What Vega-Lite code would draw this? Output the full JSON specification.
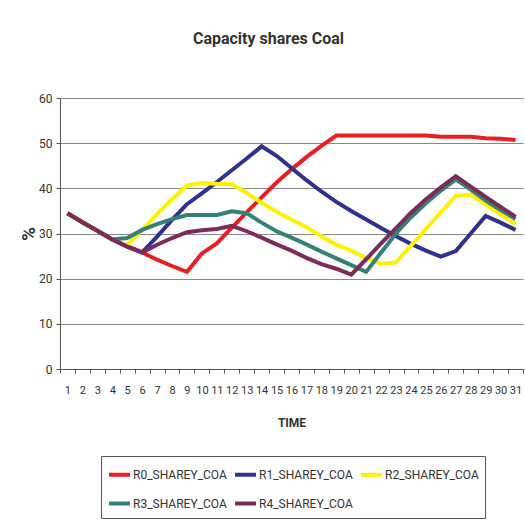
{
  "$schema": "https://vega.github.io/schema/vega-lite/v6.json",
  "width": 463,
  "height": 271,
  "autosize": {"type": "none"},
  "padding": {"left": 60, "top": 98, "right": 2, "bottom": 151},
  "background": "white",
  "title": {
    "text": "Capacity shares Coal",
    "anchor": "middle",
    "dx": -23,
    "offset": 45,
    "font": "Roboto",
    "fontSize": 16,
    "fontWeight": "bold",
    "color": "#333333"
  },
  "config": {
    "view": {"stroke": null},
    "font": "Roboto"
  },
  "data": {
    "values": [
      {"t": 1, "s": "R0_SHAREY_COA", "v": 34.5}, {"t": 2, "s": "R0_SHAREY_COA", "v": 32.5}, {"t": 3, "s": "R0_SHAREY_COA", "v": 30.6}, {"t": 4, "s": "R0_SHAREY_COA", "v": 28.7}, {"t": 5, "s": "R0_SHAREY_COA", "v": 27.2}, {"t": 6, "s": "R0_SHAREY_COA", "v": 25.8}, {"t": 7, "s": "R0_SHAREY_COA", "v": 24.2}, {"t": 8, "s": "R0_SHAREY_COA", "v": 22.8}, {"t": 9, "s": "R0_SHAREY_COA", "v": 21.5}, {"t": 10, "s": "R0_SHAREY_COA", "v": 25.6}, {"t": 11, "s": "R0_SHAREY_COA", "v": 27.8}, {"t": 12, "s": "R0_SHAREY_COA", "v": 31.3}, {"t": 13, "s": "R0_SHAREY_COA", "v": 34.7}, {"t": 14, "s": "R0_SHAREY_COA", "v": 38.0}, {"t": 15, "s": "R0_SHAREY_COA", "v": 41.3}, {"t": 16, "s": "R0_SHAREY_COA", "v": 44.2}, {"t": 17, "s": "R0_SHAREY_COA", "v": 46.9}, {"t": 18, "s": "R0_SHAREY_COA", "v": 49.4}, {"t": 19, "s": "R0_SHAREY_COA", "v": 51.7}, {"t": 20, "s": "R0_SHAREY_COA", "v": 51.7}, {"t": 21, "s": "R0_SHAREY_COA", "v": 51.7}, {"t": 22, "s": "R0_SHAREY_COA", "v": 51.7}, {"t": 23, "s": "R0_SHAREY_COA", "v": 51.7}, {"t": 24, "s": "R0_SHAREY_COA", "v": 51.7}, {"t": 25, "s": "R0_SHAREY_COA", "v": 51.7}, {"t": 26, "s": "R0_SHAREY_COA", "v": 51.4}, {"t": 27, "s": "R0_SHAREY_COA", "v": 51.4}, {"t": 28, "s": "R0_SHAREY_COA", "v": 51.4}, {"t": 29, "s": "R0_SHAREY_COA", "v": 51.1}, {"t": 30, "s": "R0_SHAREY_COA", "v": 51.0}, {"t": 31, "s": "R0_SHAREY_COA", "v": 50.7},
      {"t": 1, "s": "R1_SHAREY_COA", "v": 34.5}, {"t": 2, "s": "R1_SHAREY_COA", "v": 32.5}, {"t": 3, "s": "R1_SHAREY_COA", "v": 30.6}, {"t": 4, "s": "R1_SHAREY_COA", "v": 28.7}, {"t": 5, "s": "R1_SHAREY_COA", "v": 27.1}, {"t": 6, "s": "R1_SHAREY_COA", "v": 25.8}, {"t": 7, "s": "R1_SHAREY_COA", "v": 29.3}, {"t": 8, "s": "R1_SHAREY_COA", "v": 33.0}, {"t": 9, "s": "R1_SHAREY_COA", "v": 36.5}, {"t": 10, "s": "R1_SHAREY_COA", "v": 38.9}, {"t": 11, "s": "R1_SHAREY_COA", "v": 41.4}, {"t": 12, "s": "R1_SHAREY_COA", "v": 44.0}, {"t": 13, "s": "R1_SHAREY_COA", "v": 46.6}, {"t": 14, "s": "R1_SHAREY_COA", "v": 49.3}, {"t": 15, "s": "R1_SHAREY_COA", "v": 47.2}, {"t": 16, "s": "R1_SHAREY_COA", "v": 44.5}, {"t": 17, "s": "R1_SHAREY_COA", "v": 41.8}, {"t": 18, "s": "R1_SHAREY_COA", "v": 39.3}, {"t": 19, "s": "R1_SHAREY_COA", "v": 37.0}, {"t": 20, "s": "R1_SHAREY_COA", "v": 35.0}, {"t": 21, "s": "R1_SHAREY_COA", "v": 33.1}, {"t": 22, "s": "R1_SHAREY_COA", "v": 31.2}, {"t": 23, "s": "R1_SHAREY_COA", "v": 29.4}, {"t": 24, "s": "R1_SHAREY_COA", "v": 27.7}, {"t": 25, "s": "R1_SHAREY_COA", "v": 26.2}, {"t": 26, "s": "R1_SHAREY_COA", "v": 24.9}, {"t": 27, "s": "R1_SHAREY_COA", "v": 26.1}, {"t": 28, "s": "R1_SHAREY_COA", "v": 30.0}, {"t": 29, "s": "R1_SHAREY_COA", "v": 33.9}, {"t": 30, "s": "R1_SHAREY_COA", "v": 32.4}, {"t": 31, "s": "R1_SHAREY_COA", "v": 30.8},
      {"t": 1, "s": "R2_SHAREY_COA", "v": 34.5}, {"t": 2, "s": "R2_SHAREY_COA", "v": 32.5}, {"t": 3, "s": "R2_SHAREY_COA", "v": 30.6}, {"t": 4, "s": "R2_SHAREY_COA", "v": 28.7}, {"t": 5, "s": "R2_SHAREY_COA", "v": 27.4}, {"t": 6, "s": "R2_SHAREY_COA", "v": 30.8}, {"t": 7, "s": "R2_SHAREY_COA", "v": 34.3}, {"t": 8, "s": "R2_SHAREY_COA", "v": 37.6}, {"t": 9, "s": "R2_SHAREY_COA", "v": 40.6}, {"t": 10, "s": "R2_SHAREY_COA", "v": 41.2}, {"t": 11, "s": "R2_SHAREY_COA", "v": 41.0}, {"t": 12, "s": "R2_SHAREY_COA", "v": 40.9}, {"t": 13, "s": "R2_SHAREY_COA", "v": 39.0}, {"t": 14, "s": "R2_SHAREY_COA", "v": 36.8}, {"t": 15, "s": "R2_SHAREY_COA", "v": 34.8}, {"t": 16, "s": "R2_SHAREY_COA", "v": 33.1}, {"t": 17, "s": "R2_SHAREY_COA", "v": 31.4}, {"t": 18, "s": "R2_SHAREY_COA", "v": 29.4}, {"t": 19, "s": "R2_SHAREY_COA", "v": 27.5}, {"t": 20, "s": "R2_SHAREY_COA", "v": 26.2}, {"t": 21, "s": "R2_SHAREY_COA", "v": 24.6}, {"t": 22, "s": "R2_SHAREY_COA", "v": 23.3}, {"t": 23, "s": "R2_SHAREY_COA", "v": 23.6}, {"t": 24, "s": "R2_SHAREY_COA", "v": 27.3}, {"t": 25, "s": "R2_SHAREY_COA", "v": 31.0}, {"t": 26, "s": "R2_SHAREY_COA", "v": 34.7}, {"t": 27, "s": "R2_SHAREY_COA", "v": 38.3}, {"t": 28, "s": "R2_SHAREY_COA", "v": 38.6}, {"t": 29, "s": "R2_SHAREY_COA", "v": 36.4}, {"t": 30, "s": "R2_SHAREY_COA", "v": 34.2}, {"t": 31, "s": "R2_SHAREY_COA", "v": 32.1},
      {"t": 1, "s": "R3_SHAREY_COA", "v": 34.5}, {"t": 2, "s": "R3_SHAREY_COA", "v": 32.5}, {"t": 3, "s": "R3_SHAREY_COA", "v": 30.6}, {"t": 4, "s": "R3_SHAREY_COA", "v": 28.7}, {"t": 5, "s": "R3_SHAREY_COA", "v": 29.0}, {"t": 6, "s": "R3_SHAREY_COA", "v": 30.8}, {"t": 7, "s": "R3_SHAREY_COA", "v": 32.1}, {"t": 8, "s": "R3_SHAREY_COA", "v": 33.2}, {"t": 9, "s": "R3_SHAREY_COA", "v": 34.1}, {"t": 10, "s": "R3_SHAREY_COA", "v": 34.1}, {"t": 11, "s": "R3_SHAREY_COA", "v": 34.1}, {"t": 12, "s": "R3_SHAREY_COA", "v": 34.9}, {"t": 13, "s": "R3_SHAREY_COA", "v": 34.5}, {"t": 14, "s": "R3_SHAREY_COA", "v": 32.4}, {"t": 15, "s": "R3_SHAREY_COA", "v": 30.5}, {"t": 16, "s": "R3_SHAREY_COA", "v": 29.1}, {"t": 17, "s": "R3_SHAREY_COA", "v": 27.6}, {"t": 18, "s": "R3_SHAREY_COA", "v": 26.0}, {"t": 19, "s": "R3_SHAREY_COA", "v": 24.5}, {"t": 20, "s": "R3_SHAREY_COA", "v": 23.0}, {"t": 21, "s": "R3_SHAREY_COA", "v": 21.5}, {"t": 22, "s": "R3_SHAREY_COA", "v": 25.8}, {"t": 23, "s": "R3_SHAREY_COA", "v": 30.0}, {"t": 24, "s": "R3_SHAREY_COA", "v": 33.6}, {"t": 25, "s": "R3_SHAREY_COA", "v": 36.7}, {"t": 26, "s": "R3_SHAREY_COA", "v": 39.5}, {"t": 27, "s": "R3_SHAREY_COA", "v": 42.0}, {"t": 28, "s": "R3_SHAREY_COA", "v": 39.7}, {"t": 29, "s": "R3_SHAREY_COA", "v": 37.3}, {"t": 30, "s": "R3_SHAREY_COA", "v": 35.2}, {"t": 31, "s": "R3_SHAREY_COA", "v": 33.2},
      {"t": 1, "s": "R4_SHAREY_COA", "v": 34.5}, {"t": 2, "s": "R4_SHAREY_COA", "v": 32.5}, {"t": 3, "s": "R4_SHAREY_COA", "v": 30.6}, {"t": 4, "s": "R4_SHAREY_COA", "v": 28.7}, {"t": 5, "s": "R4_SHAREY_COA", "v": 27.1}, {"t": 6, "s": "R4_SHAREY_COA", "v": 25.8}, {"t": 7, "s": "R4_SHAREY_COA", "v": 27.5}, {"t": 8, "s": "R4_SHAREY_COA", "v": 29.0}, {"t": 9, "s": "R4_SHAREY_COA", "v": 30.3}, {"t": 10, "s": "R4_SHAREY_COA", "v": 30.7}, {"t": 11, "s": "R4_SHAREY_COA", "v": 31.0}, {"t": 12, "s": "R4_SHAREY_COA", "v": 31.7}, {"t": 13, "s": "R4_SHAREY_COA", "v": 30.5}, {"t": 14, "s": "R4_SHAREY_COA", "v": 29.1}, {"t": 15, "s": "R4_SHAREY_COA", "v": 27.6}, {"t": 16, "s": "R4_SHAREY_COA", "v": 26.2}, {"t": 17, "s": "R4_SHAREY_COA", "v": 24.6}, {"t": 18, "s": "R4_SHAREY_COA", "v": 23.2}, {"t": 19, "s": "R4_SHAREY_COA", "v": 22.2}, {"t": 20, "s": "R4_SHAREY_COA", "v": 20.9}, {"t": 21, "s": "R4_SHAREY_COA", "v": 24.3}, {"t": 22, "s": "R4_SHAREY_COA", "v": 27.8}, {"t": 23, "s": "R4_SHAREY_COA", "v": 31.2}, {"t": 24, "s": "R4_SHAREY_COA", "v": 34.6}, {"t": 25, "s": "R4_SHAREY_COA", "v": 37.6}, {"t": 26, "s": "R4_SHAREY_COA", "v": 40.2}, {"t": 27, "s": "R4_SHAREY_COA", "v": 42.7}, {"t": 28, "s": "R4_SHAREY_COA", "v": 40.4}, {"t": 29, "s": "R4_SHAREY_COA", "v": 38.1}, {"t": 30, "s": "R4_SHAREY_COA", "v": 35.9}, {"t": 31, "s": "R4_SHAREY_COA", "v": 33.7}
    ]
  },
  "mark": {"type": "line", "strokeWidth": 4, "strokeJoin": "miter"},
  "encoding": {
    "x": {
      "field": "t",
      "type": "ordinal",
      "scale": {"type": "band", "paddingInner": 0, "paddingOuter": 0},
      "axis": {
        "title": "TIME",
        "labelAngle": 0,
        "tickBand": "extent",
        "tickSize": 4,
        "tickColor": "#555555",
        "domainColor": "#555555",
        "labelPadding": 11,
        "labelFontSize": 11,
        "labelColor": "#333333",
        "titleFontSize": 12,
        "titleFontWeight": "bold",
        "titleColor": "#333333",
        "titlePadding": 22,
        "grid": false
      }
    },
    "y": {
      "field": "v",
      "type": "quantitative",
      "scale": {"domain": [0, 60]},
      "axis": {
        "title": "%",
        "values": [0, 10, 20, 30, 40, 50, 60],
        "tickSize": 4,
        "tickColor": "#555555",
        "domainColor": "#555555",
        "gridColor": "#888888",
        "gridWidth": 1.2,
        "labelPadding": 4,
        "labelFontSize": 12,
        "labelColor": "#333333",
        "titleFontSize": 19,
        "titleFontWeight": "bold",
        "titleColor": "#333333",
        "titlePadding": 0
      }
    },
    "color": {
      "field": "s",
      "type": "nominal",
      "scale": {
        "domain": ["R0_SHAREY_COA", "R1_SHAREY_COA", "R2_SHAREY_COA", "R3_SHAREY_COA", "R4_SHAREY_COA"],
        "range": ["#ED1C24", "#2E3192", "#FFF200", "#348273", "#7D2B58"]
      },
      "legend": {
        "title": null,
        "orient": "none",
        "legendX": 41,
        "legendY": 358,
        "direction": "horizontal",
        "columns": 3,
        "columnPadding": 0,
        "rowPadding": 8,
        "padding": 6,
        "strokeColor": "#555555",
        "symbolType": "stroke",
        "symbolSize": 441,
        "symbolStrokeWidth": 4,
        "labelFontSize": 12,
        "labelColor": "#333333",
        "labelOffset": 1,
        "labelLimit": 200
      }
    }
  }
}
